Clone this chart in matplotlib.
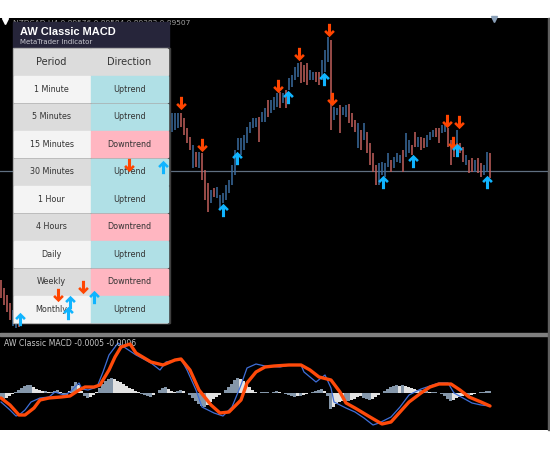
import numpy as np
import matplotlib.pyplot as plt
import matplotlib.transforms as mtransforms
from matplotlib.patches import Rectangle
from matplotlib.path import Path

# price bars (points above panel floor)
highs = [53, 45, 38, 30, 23, 21, 18, 28, 33, 35,
         41, 43, 48, 45, 41, 47, 51, 53, 49, 45,
         43, 41, 43, 48, 53, 55, 51, 48, 45, 50,
         57, 63, 71, 78, 85, 93, 101, 108, 115, 123,
         133, 143, 153, 161, 158, 155, 163, 171, 178, 183,
         185, 188, 193, 183, 188, 203, 213, 220, 220, 220,
         220, 215, 205, 196, 188, 181, 181, 180, 163, 150,
         143, 145, 146, 138, 140, 148, 153, 168, 183, 195,
         195, 198, 206, 211, 215, 215, 216, 221, 225, 233,
         233, 236, 240, 241, 240, 243, 255, 258, 266, 270,
         271, 268, 270, 263, 261, 261, 261, 273, 283, 296,
         293, 226, 225, 228, 226, 228, 229, 220, 213, 210,
         203, 210, 201, 190, 180, 168, 170, 171, 170, 180,
         173, 176, 180, 178, 183, 200, 193, 188, 201, 196,
         196, 195, 198, 201, 203, 205, 205, 208, 208, 205,
         193, 190, 203, 190, 186, 178, 173, 175, 173, 175,
         170, 168, 181, 180]
lows = [35, 28, 21, 13, 7, 5, 6, 13, 18, 21,
        27, 29, 33, 31, 27, 35, 38, 41, 37, 33,
        28, 25, 29, 35, 40, 43, 38, 35, 33, 37,
        43, 49, 57, 63, 71, 78, 85, 93, 101, 108,
        118, 128, 138, 145, 143, 141, 148, 157, 163, 168,
        171, 175, 178, 171, 175, 185, 195, 201, 203, 205,
        206, 198, 190, 183, 165, 166, 165, 153, 133, 121,
        130, 136, 135, 125, 130, 133, 140, 148, 158, 183,
        178, 183, 190, 200, 205, 206, 191, 211, 211, 216,
        220, 223, 226, 225, 230, 225, 243, 246, 253, 256,
        250, 251, 248, 253, 253, 251, 248, 253, 261, 271,
        203, 213, 218, 200, 218, 216, 210, 206, 201, 185,
        183, 193, 180, 168, 161, 148, 148, 158, 156, 166,
        161, 165, 171, 170, 161, 176, 180, 178, 186, 186,
        183, 185, 186, 193, 196, 196, 190, 200, 201, 186,
        168, 176, 186, 180, 171, 168, 160, 161, 161, 160,
        156, 158, 161, 155]
bar_dir = ("rrrrbbrbbr" "bbrrbbbrrr" "rrbbbrrrbb" "bbbbbbrbbb"
           "bbrrrbbbbr" "bbbrbbbbbb" "rrrrbrbrrr" "brbbbbbbbb"
           "bbbbbbrbbr" "bbbrbrbbbb" "rrrbbrrbbb" "rbbrbbrrrb"
           "rbrrrrbbbb" "rbbbrbbrrb" "rrbbbrrbbr" "rrbrrbrrbr" "rbbr")
last_price = 162

down_idx = [19, 27.3, 42.7, 60, 67, 92.3, 99.3, 109.3, 110.3, 148.7, 152.7, 150.7]
down_val = [38, 46, 168, 230, 188, 247, 279, 303, 234, 212, 211, 190]
up_idx = [6.3, 23, 22.3, 31, 54, 74, 78.7, 95.7, 107.7, 127.3, 137.3, 152, 162]
up_val = [14, 31, 20, 36, 166, 123, 175, 236, 254, 151, 172, 183, 151]

# MACD panel
hist = [-6, -6, -5, -3, -1, 1, 3, 5, 7, 8, 8, 6, 4, 3, 2, 2, 1, 1, 2, 3,
        1, -2, -4, 2, 7, 11, 8, 2, -3, -5, -4, -2, 1, 5, 9, 12, 14, 15, 14, 12,
        11, 9, 7, 5, 4, 2, 1, -1, -2, -3, -4, -2, 0, 3, 5, 6, 4, 2, 1, 2,
        3, 2, 0, -2, -5, -8, -11, -13, -14, -12, -9, -6, -4, -2, 0, 3, 6, 9, 13, 15,
        14, 12, 9, 6, 3, 1, 0, 1, 1, 1, 0, 1, 2, 1, 0, -1, -2, -3, -4, -3,
        -3, -2, -1, 0, 1, 2, 3, 4, 2, -3, -16, -14, -11, -9, -8, -8, -8, -7, -6, -4,
        -3, -5, -6, -7, -6, -4, -2, 0, 2, 4, 6, 7, 8, 7, 8, 7, 6, 5, 4, 3,
        3, 2, 2, 1, 1, 1, 0, -1, -3, -6, -8, -7, -5, -4, -3, -2, -3, -2, -1, 0,
        1, 1, 2, 2]
macd_idx = [0, 3, 5, 6, 8, 10, 13, 16, 18, 21, 23, 26, 27, 29, 32, 34, 36, 39, 41, 45,
            50, 53, 55, 60, 62, 65, 67, 71, 74, 77, 80, 82, 85, 88, 93, 96, 100, 101, 105, 108,
            110, 111, 115, 118, 121, 124, 126, 130, 133, 136, 140, 143, 146, 149, 151, 154, 157, 160, 163]
macd_vals = [-9, -17, -23, -22, -17, -9, -5, -4, 1, -2, 1, 10, 4, 3, 6, 21, 38, 50, 46, 38,
             30, 23, 31, 34, 23, 3, -14, -20, -23, -14, 8, 25, 29, 27, 26, 28, 28, 21, 11, 18,
             5, -9, -15, -19, -25, -32, -30, -24, -14, -2, 4, 7, 10, 10, 0, -5, -10, -12, -13]
signal_idx = [0, 3, 6, 8, 11, 13, 16, 20, 23, 26, 28, 31, 33, 36, 38, 40, 43, 45, 50, 54,
              58, 60, 63, 66, 70, 73, 76, 80, 82, 85, 88, 91, 96, 100, 103, 106, 110, 113, 115, 118,
              123, 127, 130, 133, 136, 140, 143, 146, 150, 153, 156, 160, 163]
signal_vals = [-5, -12, -22, -22, -15, -7, -5, -4, -3, 3, 6, 6, 8, 23, 36, 46, 49, 40, 31, 28,
               33, 34, 23, 3, -12, -20, -19, -7, 10, 21, 26, 27, 28, 28, 23, 16, 13, 1, -10, -15,
               -24, -31, -29, -19, -9, 0, 6, 9, 9, 3, -4, -9, -13]

periods = ["1 Minute", "5 Minutes", "15 Minutes", "30 Minutes", "1 Hour",
           "4 Hours", "Daily", "Weekly", "Monthly"]
directions = ["Uptrend", "Uptrend", "Downtrend", "Uptrend", "Uptrend",
              "Downtrend", "Uptrend", "Downtrend", "Uptrend"]

W, H = 550, 450
fig = plt.figure(figsize=(5.5, 4.5), dpi=100, facecolor="white")
pix = mtransforms.Affine2D().scale(1 / W, -1 / H).translate(0, 1) + fig.transFigure

ax = fig.add_axes([0, 117 / H, 548 / W, 315 / H])
ax2 = fig.add_axes([0, 20 / H, 548 / W, 94 / H])
for a in (ax, ax2):
    a.set_facecolor("black")
    a.set_xticks([])
    a.set_yticks([])
    for s in a.spines.values():
        s.set_visible(False)
    a.set_xlim(-1 / 3, 547 / 3)

# main chart
ax.set_ylim(0, 315)
ax.axhline(last_price, color="#5f6f80", lw=0.9, zorder=1)
idx = np.arange(len(highs))
cols = ["#3a6c9e" if d == "b" else "#c2605c" for d in bar_dir]
ax.vlines(idx, lows, highs, colors=cols, lw=1.1, zorder=2)

ax.text(13, 23, "NZDCAD,H4 0.89576 0.89584 0.89383 0.89507", transform=pix,
        color="#a0a0a0", fontsize=5.4, va="center", ha="left", zorder=3)
ax.plot([5], [21], marker="v", ms=4, color="white", transform=pix, clip_on=False)
ax.plot([494], [19], marker="v", ms=4.5, color="#8aa0b8", transform=pix, clip_on=False)

# table overlay
tx0, tmid, tx1 = 13, 90, 169
ax.add_patch(Rectangle((tx0, 22), tx1 - tx0, 26, transform=pix, color="#26253a",
                       zorder=5, clip_on=False))
ax.text(20, 32, "AW Classic MACD", transform=pix, color="white", fontsize=7.9,
        fontweight="heavy", family="Liberation Sans",
        va="center", ha="left", zorder=6)
ax.text(20, 42.5, "MetaTrader Indicator", transform=pix, color="#c8c8d0",
        fontsize=5.0, va="center", ha="left", zorder=6)
ax.add_patch(Rectangle((tx0, 48), tx1 - tx0, 275, transform=pix, color="#a8a8a8",
                       zorder=5, clip_on=False))
ax.add_patch(Rectangle((tx1 - 1, 48), 1.5, 275, transform=pix, color="#404040",
                       zorder=5.5, clip_on=False))
row_h = 27.5
ax.add_patch(Rectangle((tx0 + 1, 49), tmid - tx0 - 1.5, 26, transform=pix,
                       color="#dcdcdc", zorder=5.5, clip_on=False))
ax.add_patch(Rectangle((tmid + 1, 49), tx1 - tmid - 2.5, 26, transform=pix,
                       color="#dcdcdc", zorder=5.5, clip_on=False))
ax.text((tx0 + tmid) / 2, 62, "Period", transform=pix, color="#333333", fontsize=7,
        va="center", ha="center", zorder=6)
ax.text((tmid + tx1) / 2, 62, "Direction", transform=pix, color="#333333", fontsize=7,
        va="center", ha="center", zorder=6)
for k, (p, d) in enumerate(zip(periods, directions)):
    top = 75 + k * row_h
    pc = "#f4f4f4" if k % 2 == 0 else "#dcdcdc"
    dc = "#b0e0e6" if d == "Uptrend" else "#ffb6c1"
    ax.add_patch(Rectangle((tx0 + 1, top + 1), tmid - tx0 - 1.5, row_h - 1.5,
                           transform=pix, color=pc, zorder=5.5, clip_on=False))
    ax.add_patch(Rectangle((tmid + 1, top + 1), tx1 - tmid - 2.5, row_h - 1.5,
                           transform=pix, color=dc, zorder=5.5, clip_on=False))
    ax.text((tx0 + tmid) / 2, top + row_h / 2 + 0.5, p, transform=pix, color="#333333",
            fontsize=5.8, va="center", ha="center", zorder=6)
    ax.text((tmid + tx1) / 2, top + row_h / 2 + 0.5, d, transform=pix, color="#333333",
            fontsize=5.8, va="center", ha="center", zorder=6)

# arrow signals (drawn above the table)
down_path = Path([(0, -0.65), (0.52, -0.13), (0.34, 0.05), (0.15, -0.14), (0.15, 0.65),
                  (-0.15, 0.65), (-0.15, -0.14), (-0.34, 0.05), (-0.52, -0.13), (0, -0.65)],
                 closed=True)
up_path = Path(down_path.vertices * [1, -1], closed=True)
ax.plot(down_idx, down_val, ls="none", marker=down_path, ms=9.6, mew=0,
        color="#ff4500", zorder=8)
ax.plot(up_idx, up_val, ls="none", marker=up_path, ms=9.6, mew=0,
        color="#10b4ff", zorder=8)

# MACD panel
ax2.set_ylim(-37, 57)
h = np.array(hist)
grow = np.abs(h) >= np.abs(np.r_[0, h[:-1]])
hcols = np.where(grow, "#8597aa", "#e2e2e2")
ax2.bar(idx, h, width=1.0, color=hcols, linewidth=0, zorder=2)
ax2.plot(macd_idx, macd_vals, color="#3f6fd8", lw=0.9, zorder=3)
ax2.plot(signal_idx, signal_vals, color="#ff4a0a", lw=2.4, zorder=4,
         solid_capstyle="round", solid_joinstyle="round")
ax2.text(4, 344, "AW Classic MACD -0.0005 -0.0006", transform=pix, color="#c8c8c8",
         fontsize=5.6, va="center", ha="left")

# separators
fig.patches.append(Rectangle((0, 333), 548, 3, transform=pix, color="#7f7f7f"))
fig.patches.append(Rectangle((548, 18), 2, 412, transform=pix, color="#606060"))

fig.savefig("out.png", dpi=100, facecolor="white")
